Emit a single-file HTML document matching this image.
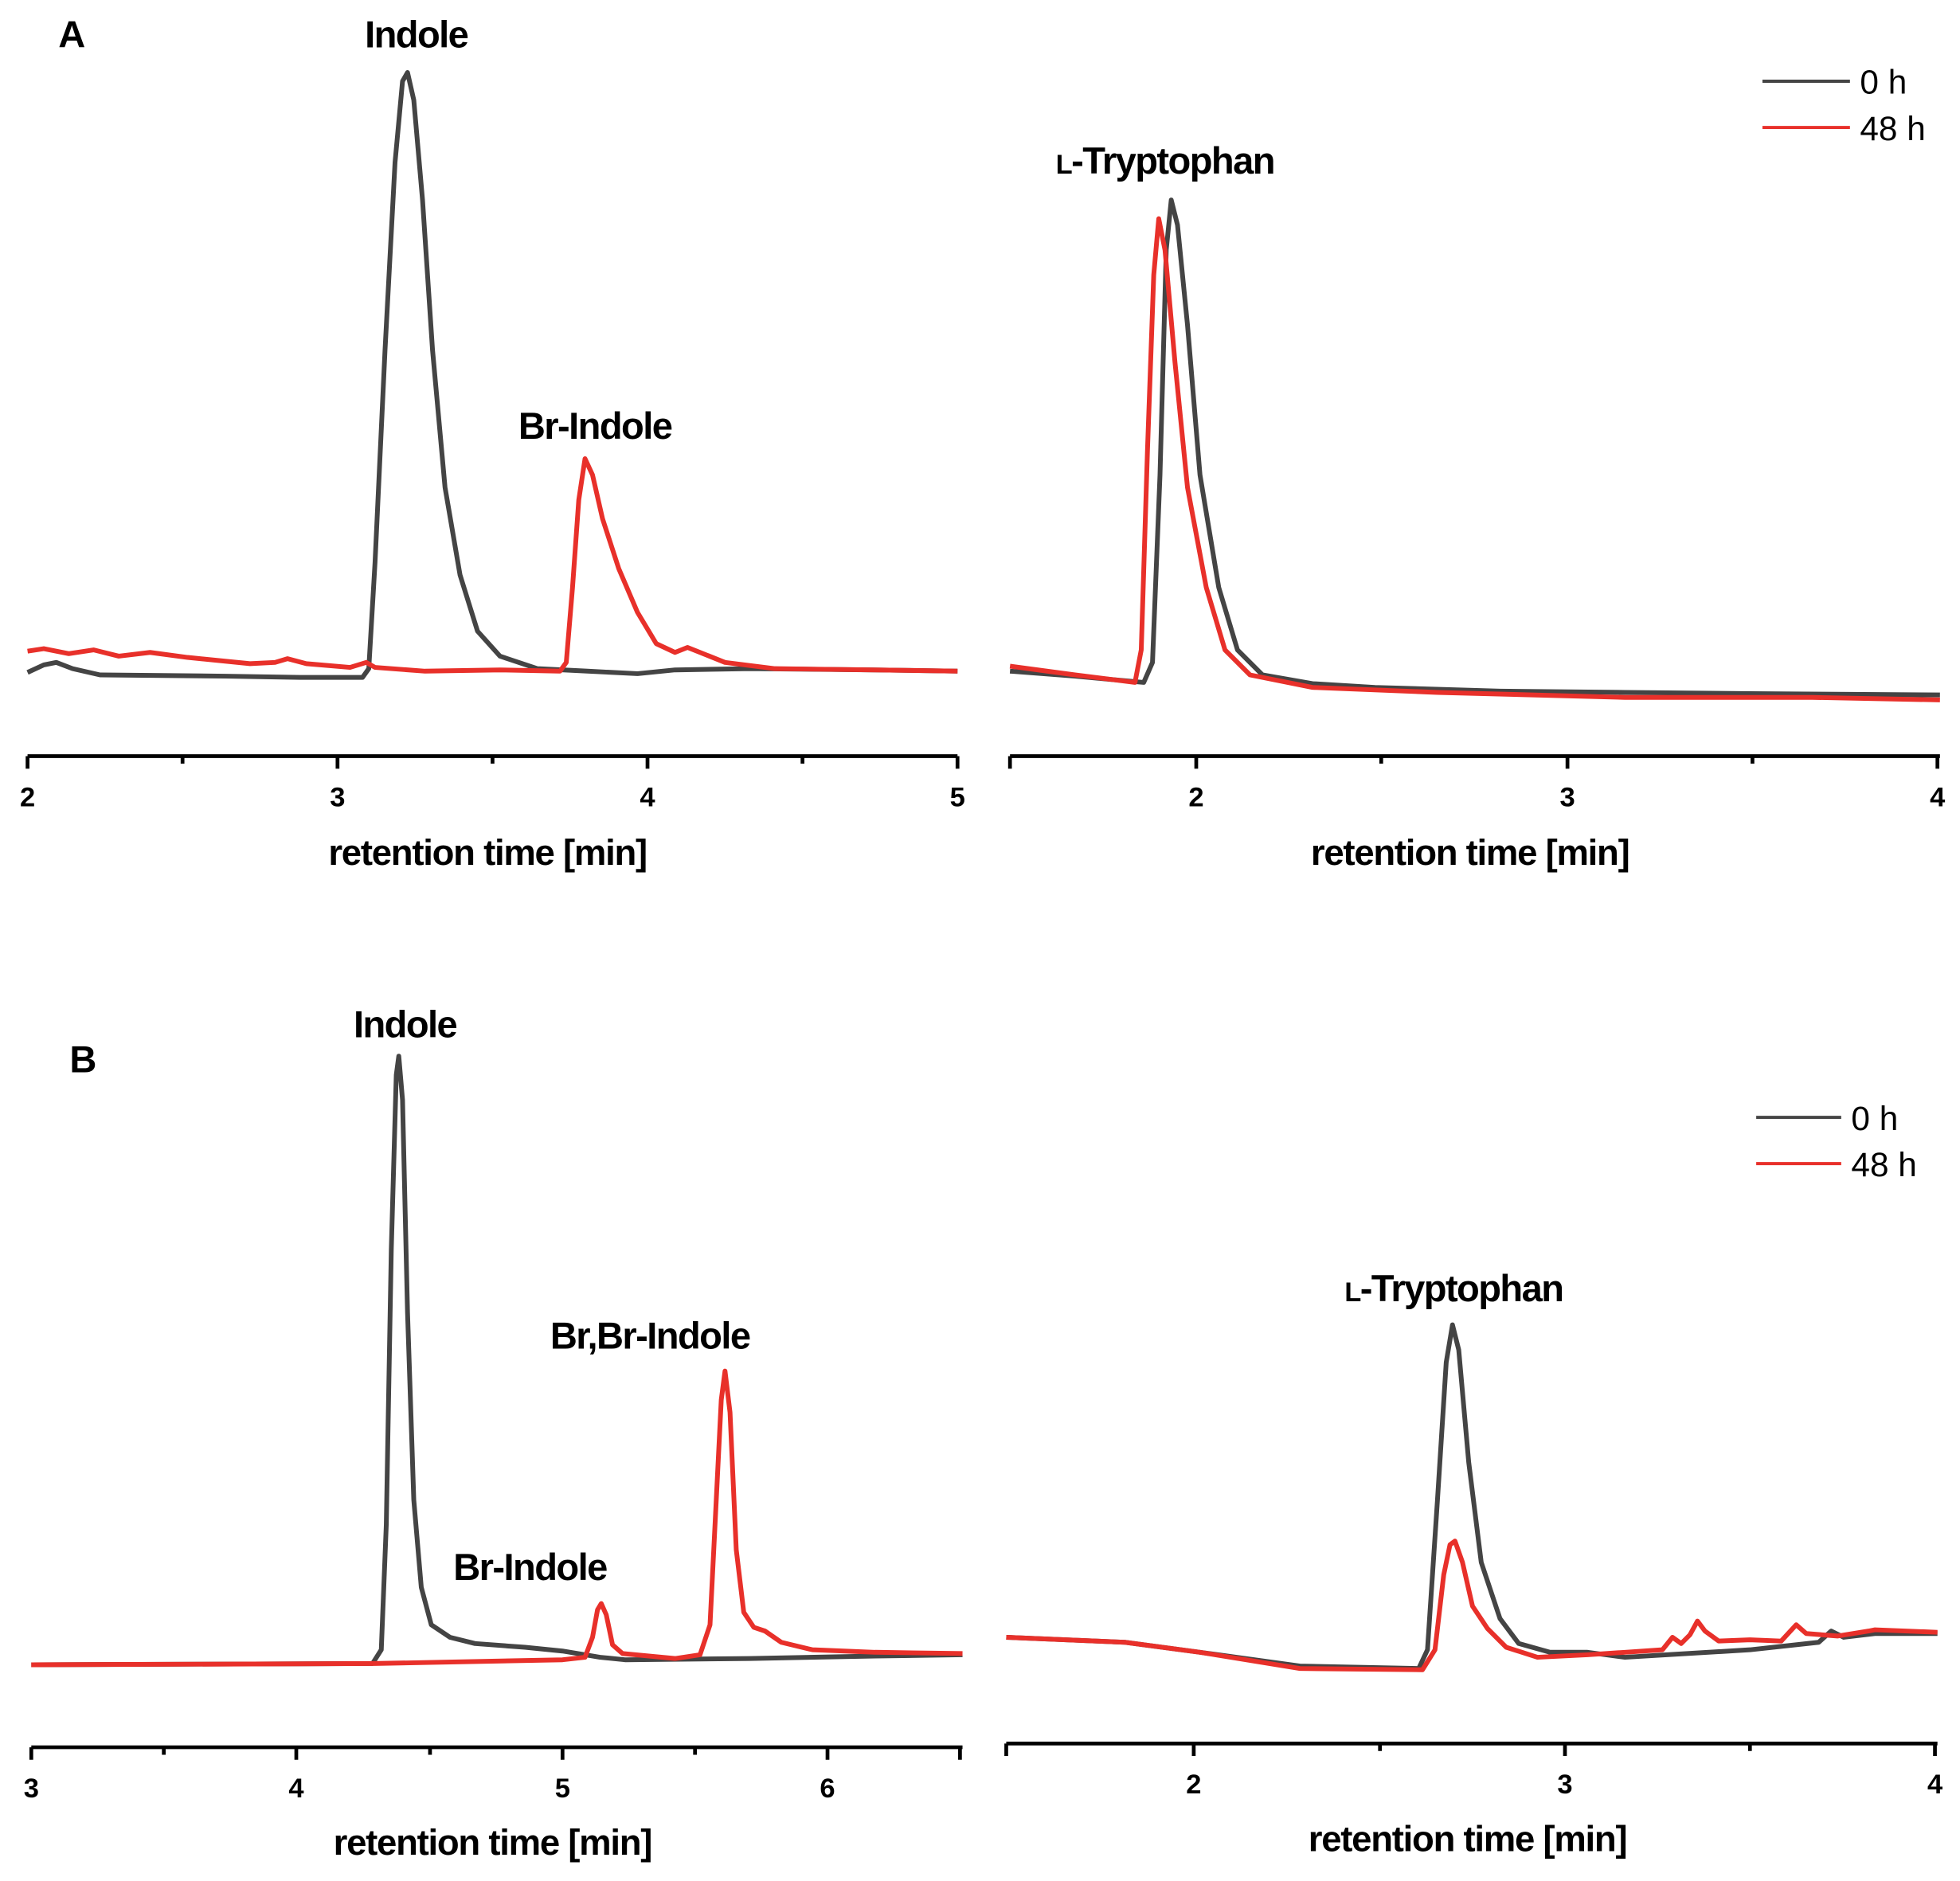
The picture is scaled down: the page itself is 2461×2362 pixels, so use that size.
<!DOCTYPE html>
<html><head><meta charset="utf-8"><style>
html,body{margin:0;padding:0;background:#fff}
svg{display:block}
text{font-family:"Liberation Sans",Arial,sans-serif;fill:#000}
.lab{font-size:30px;font-weight:bold;letter-spacing:-1px;text-anchor:middle}
.tk{font-size:22px;font-weight:bold;text-anchor:middle}
.ax{font-size:29px;font-weight:bold;letter-spacing:-0.8px;text-anchor:middle}
.lg{font-size:27px}
.g{fill:none;stroke:#444;stroke-width:3.8;stroke-linejoin:round}
.r{fill:none;stroke:#e8302a;stroke-width:3.8;stroke-linejoin:round}
.axl{stroke:#000;stroke-width:3;fill:none}
</style></head><body>
<svg width="2461" height="2362" viewBox="0 0 1568 1505" xmlns="http://www.w3.org/2000/svg">
<path class="axl" d="M22 605H766M22 605v10M146 605v6M270 605v10M394 605v6M518 605v10M642 605v6M766 605v10"/>
<text class="tk" x="22" y="645">2</text><text class="tk" x="270" y="645">3</text><text class="tk" x="518" y="645">4</text><text class="tk" x="766" y="645">5</text>
<text class="ax" x="390" y="692">retention time [min]</text>
<text class="lab" x="57" y="38">A</text>
<text class="lab" x="333" y="38">Indole</text>
<text class="lab" x="476" y="351">Br-Indole</text>
<path class="g" d="M22 538 L35 532 L45 530 L58 535 L80 540 L180 541 L240 542 L290 542 L295 535 L300 450 L308 280 L316 130 L322 65 L326 58 L331 80 L338 160 L346 280 L356 390 L368 460 L382 505 L400 525 L430 535 L470 537 L510 539 L540 536 L600 535 L700 536 L766 537"/>
<path class="r" d="M22 521 L35 519 L55 523 L75 520 L95 525 L120 522 L150 526 L200 531 L220 530 L230 527 L245 531 L280 534 L293 530 L300 534 L340 537 L400 536 L448 537 L453 530 L458 470 L463 400 L468 367 L474 380 L482 415 L495 455 L510 490 L525 515 L540 522 L550 518 L560 522 L580 530 L620 535 L700 536 L766 537"/>
<path class="axl" d="M808 605H1552M808 605v10M957 605v10M1105 605v6M1254 605v10M1402 605v6M1550 605v10"/>
<text class="tk" x="957" y="645">2</text><text class="tk" x="1254" y="645">3</text><text class="tk" x="1550" y="645">4</text>
<text class="ax" x="1176" y="692">retention time [min]</text>
<text class="lab" x="932" y="139"><tspan font-size="22">L</tspan>-Tryptophan</text>
<path class="g" d="M808 537 L860 541 L915 546 L922 530 L928 380 L933 200 L937 160 L942 180 L950 260 L960 380 L975 470 L990 520 L1010 540 L1050 547 L1100 550 L1200 553 L1300 554 L1400 555 L1552 556"/>
<path class="r" d="M808 533 L860 540 L908 546 L913 520 L918 360 L923 220 L927 175 L932 200 L940 290 L950 390 L965 470 L980 520 L1000 540 L1050 550 L1150 554 L1300 558 L1450 558 L1552 560"/>
<path d="M1410 65H1480" stroke="#444" stroke-width="2.5"/><text class="lg" x="1488" y="75">0 h</text>
<path d="M1410 102H1480" stroke="#e8302a" stroke-width="2.5"/><text class="lg" x="1488" y="112">48 h</text>
<path class="axl" d="M25 1398H770M25 1398v10M131 1398v6M237 1398v10M344 1398v6M450 1398v10M556 1398v6M662 1398v10M768 1398v10"/>
<text class="tk" x="25" y="1438">3</text><text class="tk" x="237" y="1438">4</text><text class="tk" x="450" y="1438">5</text><text class="tk" x="662" y="1438">6</text>
<text class="ax" x="394" y="1484">retention time [min]</text>
<text class="lab" x="66" y="858">B</text>
<text class="lab" x="324" y="830">Indole</text>
<text class="lab" x="424" y="1264">Br-Indole</text>
<text class="lab" x="520" y="1079">Br,Br-Indole</text>
<path class="g" d="M25 1332 L298 1331 L305 1320 L309 1220 L313 1000 L317 860 L319 845 L322 880 L326 1050 L331 1200 L337 1270 L345 1300 L360 1310 L380 1315 L420 1318 L450 1321 L480 1326 L500 1328 L600 1327 L700 1325 L770 1324"/>
<path class="r" d="M25 1332 L300 1331 L450 1328 L468 1326 L474 1310 L478 1288 L481 1283 L485 1292 L490 1316 L498 1323 L540 1327 L560 1324 L568 1300 L573 1200 L577 1120 L580 1097 L584 1130 L589 1240 L595 1290 L603 1302 L612 1305 L625 1314 L650 1320 L700 1322 L770 1323"/>
<path class="axl" d="M805 1395H1550M805 1395v10M955 1395v10M1104 1395v6M1252 1395v10M1400 1395v6M1548 1395v10"/>
<text class="tk" x="955" y="1435">2</text><text class="tk" x="1252" y="1435">3</text><text class="tk" x="1548" y="1435">4</text>
<text class="ax" x="1174" y="1481">retention time [min]</text>
<text class="lab" x="1163" y="1041"><tspan font-size="22">L</tspan>-Tryptophan</text>
<path class="g" d="M805 1310 L900 1314 L960 1322 L1040 1333 L1135 1335 L1142 1320 L1150 1200 L1157 1090 L1162 1060 L1167 1080 L1175 1170 L1185 1250 L1200 1295 L1215 1315 L1240 1322 L1270 1322 L1300 1326 L1400 1320 L1455 1314 L1465 1305 L1475 1310 L1500 1307 L1550 1307"/>
<path class="r" d="M805 1310 L900 1314 L960 1322 L1040 1335 L1138 1336 L1148 1320 L1155 1260 L1160 1236 L1164 1233 L1170 1250 L1178 1285 L1190 1303 L1205 1318 L1230 1326 L1270 1324 L1300 1322 L1330 1320 L1338 1310 L1345 1315 L1352 1308 L1358 1297 L1364 1305 L1375 1313 L1400 1312 L1425 1313 L1437 1300 L1445 1307 L1470 1309 L1495 1305 L1500 1304 L1550 1306"/>
<path d="M1405 894H1473" stroke="#444" stroke-width="2.5"/><text class="lg" x="1481" y="904">0 h</text>
<path d="M1405 931H1473" stroke="#e8302a" stroke-width="2.5"/><text class="lg" x="1481" y="941">48 h</text>
</svg>
</body></html>
